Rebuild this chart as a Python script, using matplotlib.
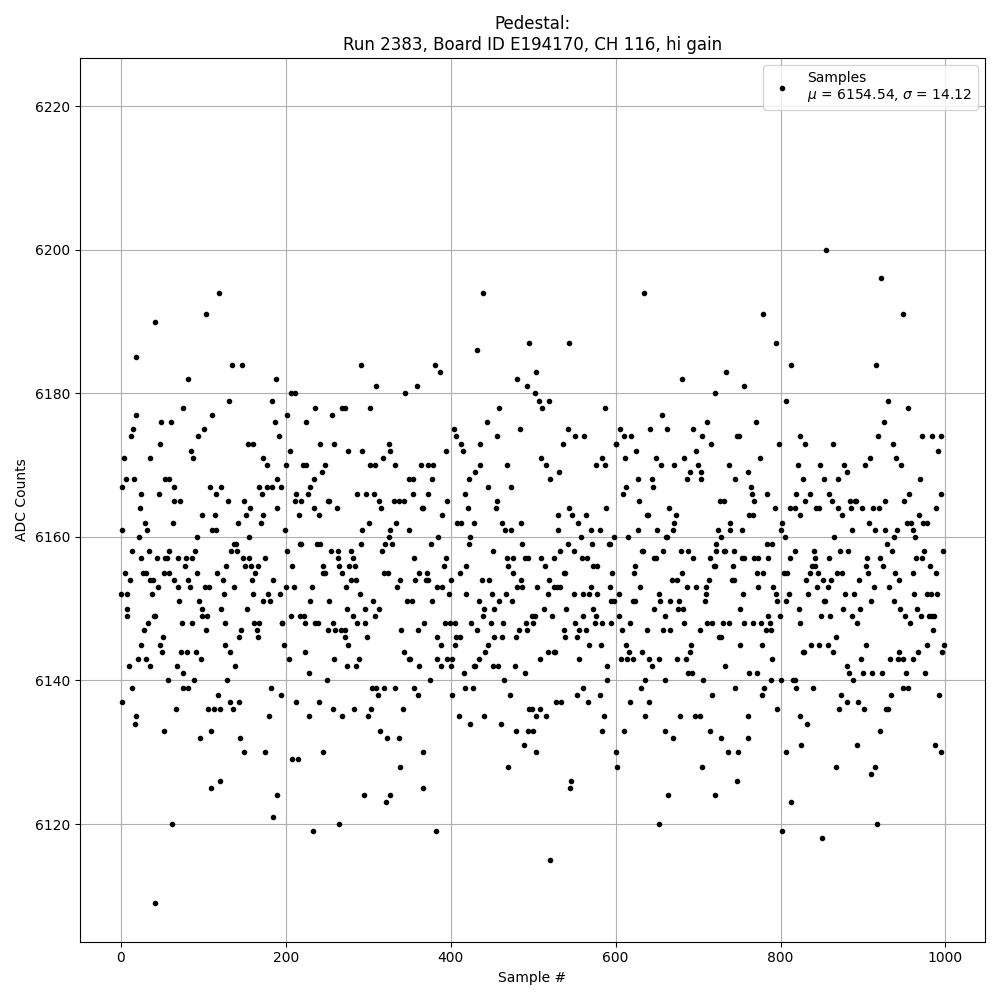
import numpy as np
import matplotlib
matplotlib.use("Agg")
import matplotlib.pyplot as plt

# (sample #, ADC counts), grouped by sample range
seg_a = [
    (119, 6194), (41, 6190), (103, 6191), (18, 6185), (135, 6184), (147, 6184), (82, 6182),
    (131, 6179), (75, 6178), (19, 6177), (110, 6177), (49, 6176), (61, 6176), (15, 6175),
    (12, 6174), (101, 6175), (93, 6174), (47, 6173), (154, 6173), (85, 6172), (4, 6171),
    (36, 6171), (87, 6171), (6, 6168), (16, 6168), (54, 6168), (59, 6168), (2, 6167),
    (64, 6167), (108, 6167), (121, 6167), (24, 6166), (46, 6166), (116, 6166), (65, 6165),
    (72, 6165), (130, 6165), (149, 6165), (23, 6164), (157, 6164), (98, 6163), (114, 6163),
    (152, 6163), (29, 6162), (63, 6162), (142, 6162), (1, 6161), (32, 6161), (111, 6161),
    (115, 6161), (22, 6160), (92, 6160), (155, 6160), (137, 6159), (140, 6159), (13, 6158),
    (34, 6158), (58, 6158), (90, 6158), (134, 6158), (141, 6158), (25, 6157), (44, 6157),
    (53, 6157), (56, 6157), (69, 6157), (79, 6157), (86, 6157), (148, 6157), (156, 6157),
    (78, 6156), (127, 6156), (151, 6156), (158, 6156),
    (5, 6155), (27, 6155), (30, 6155), (52, 6155), (58, 6155), (92, 6155), (117, 6155),
    (11, 6154), (35, 6154), (39, 6154), (65, 6154), (81, 6154), (124, 6154), (159, 6154),
    (45, 6153), (69, 6153), (84, 6153), (102, 6153), (107, 6153), (137, 6153),
    (0, 6152), (7, 6152), (38, 6152), (125, 6152), (160, 6152), (70, 6151), (95, 6151),
    (7, 6150), (99, 6150), (122, 6150), (153, 6150), (8, 6149), (40, 6149), (42, 6149),
    (98, 6149), (104, 6149), (33, 6148), (74, 6148), (86, 6148), (126, 6148), (161, 6148),
    (28, 6147), (103, 6147), (146, 6147), (51, 6146), (143, 6146), (24, 6145), (47, 6145),
    (126, 6145), (50, 6144), (73, 6144), (80, 6144), (91, 6144), (132, 6144), (21, 6143),
    (30, 6143), (97, 6143), (10, 6142), (35, 6142), (68, 6142), (138, 6142), (75, 6141),
    (57, 6140), (89, 6140), (129, 6140), (13, 6139), (76, 6139), (82, 6139), (118, 6138),
    (1, 6137), (132, 6137), (143, 6137), (67, 6136), (106, 6136), (113, 6136), (120, 6136),
    (136, 6136), (19, 6135), (17, 6134), (52, 6133), (109, 6133), (96, 6132), (144, 6132),
    (149, 6130), (120, 6126), (109, 6125), (62, 6120), (41, 6109),
]

seg_b = [
    (291, 6184), (188, 6182), (310, 6181), (206, 6180), (211, 6180), (183, 6179), (236, 6178),
    (268, 6178), (272, 6178), (302, 6178), (201, 6177), (256, 6177), (187, 6176), (225, 6176),
    (192, 6174), (160, 6173), (241, 6173), (259, 6173), (325, 6173), (205, 6172), (275, 6172),
    (293, 6172), (326, 6172), (172, 6171), (318, 6171), (177, 6170), (200, 6170), (221, 6170),
    (224, 6170), (247, 6170), (302, 6170), (308, 6170), (244, 6169), (189, 6168), (234, 6168),
    (168, 6167), (177, 6167), (183, 6167), (194, 6167), (230, 6167), (171, 6166), (212, 6166),
    (227, 6166), (286, 6166), (297, 6166), (307, 6166), (211, 6165), (218, 6165), (251, 6165),
    (252, 6165), (313, 6165), (190, 6164), (234, 6164), (262, 6164), (315, 6164), (173, 6163),
    (216, 6163), (240, 6163), (170, 6162), (301, 6162), (199, 6161), (292, 6161), (326, 6161),
    (325, 6160), (217, 6159), (219, 6159), (238, 6159), (242, 6159), (291, 6159), (320, 6159),
    (329, 6159), (202, 6158), (255, 6158), (263, 6158), (279, 6158), (317, 6158), (175, 6157),
    (263, 6157), (282, 6157), (208, 6156), (245, 6156), (264, 6156), (277, 6156), (284, 6156),
    (166, 6156),
    (163, 6155), (245, 6155), (248, 6155), (268, 6155), (319, 6155), (324, 6155), (185, 6154),
    (279, 6154), (285, 6154), (200, 6153), (210, 6153), (232, 6153), (273, 6153), (178, 6152),
    (193, 6152), (290, 6152), (172, 6151), (181, 6151), (229, 6151), (253, 6151), (306, 6151),
    (274, 6150), (296, 6150), (313, 6150), (206, 6149), (217, 6149), (222, 6149), (281, 6149),
    (308, 6149), (167, 6148), (195, 6148), (196, 6148), (223, 6148), (235, 6148), (239, 6148),
    (257, 6148), (287, 6148), (296, 6148), (165, 6147), (251, 6147), (260, 6147), (267, 6147),
    (272, 6147), (166, 6146), (272, 6146), (298, 6146), (198, 6145), (276, 6145), (223, 6144),
    (204, 6143), (258, 6143), (289, 6143), (274, 6142), (285, 6142), (228, 6141), (250, 6140),
    (182, 6139), (304, 6139), (309, 6139), (319, 6139), (194, 6138), (312, 6138), (213, 6137),
    (240, 6137), (257, 6136), (283, 6136), (303, 6136), (180, 6135), (228, 6135), (268, 6135),
    (300, 6135), (314, 6133), (323, 6132), (175, 6130), (245, 6130), (207, 6129), (215, 6129),
    (189, 6124), (295, 6124), (327, 6124), (322, 6123), (184, 6121), (265, 6120), (233, 6119),
]

seg_c = [
    (439, 6194), (432, 6186), (381, 6184), (387, 6183), (480, 6182), (359, 6181), (492, 6181),
    (345, 6180), (495, 6187), (458, 6178), (444, 6176), (404, 6175), (484, 6175), (407, 6174),
    (456, 6174), (413, 6173), (436, 6173), (394, 6172), (415, 6172), (333, 6170), (364, 6170),
    (373, 6170), (379, 6170), (435, 6170), (468, 6170), (429, 6169), (349, 6168), (354, 6168),
    (377, 6168), (422, 6168), (445, 6167), (473, 6167), (354, 6166), (372, 6166), (417, 6166),
    (331, 6165), (337, 6165), (344, 6165), (396, 6165), (456, 6165), (365, 6164), (366, 6164),
    (421, 6164), (455, 6164), (389, 6163), (334, 6162), (408, 6162), (412, 6162), (428, 6162),
    (462, 6162), (485, 6162), (349, 6161), (466, 6161), (473, 6161), (385, 6160), (423, 6160),
    (376, 6159), (422, 6159), (486, 6159), (451, 6158), (356, 6157), (394, 6157), (468, 6157),
    (475, 6157), (490, 6157), (494, 6157), (392, 6156), (418, 6156), (470, 6156),
    (361, 6155), (371, 6155), (411, 6155), (476, 6155), (339, 6154), (357, 6154), (370, 6154),
    (372, 6154), (400, 6154), (438, 6154), (446, 6154), (485, 6154), (335, 6153), (384, 6153),
    (390, 6153), (481, 6153), (487, 6153), (398, 6152), (419, 6152), (450, 6152), (467, 6152),
    (347, 6151), (353, 6151), (377, 6151), (434, 6151), (459, 6151), (474, 6151), (440, 6150),
    (453, 6150), (439, 6149), (368, 6148), (393, 6148), (399, 6148), (405, 6148), (425, 6148),
    (449, 6148), (463, 6148), (491, 6148), (340, 6147), (360, 6147), (432, 6147), (483, 6147),
    (493, 6147), (383, 6146), (406, 6146), (411, 6146), (452, 6146), (462, 6146), (479, 6146),
    (388, 6145), (405, 6145), (445, 6145), (343, 6144), (442, 6144), (349, 6143), (351, 6143),
    (383, 6143), (395, 6143), (402, 6143), (434, 6143), (362, 6142), (388, 6142), (400, 6142),
    (428, 6142), (430, 6142), (451, 6142), (457, 6142), (478, 6142), (416, 6141), (490, 6141),
    (375, 6140), (465, 6140), (332, 6139), (355, 6139), (417, 6139), (427, 6139), (360, 6138),
    (401, 6138), (472, 6138), (342, 6136), (495, 6136), (410, 6135), (441, 6135), (424, 6134),
    (461, 6134), (479, 6133), (494, 6133), (337, 6132), (489, 6131), (367, 6130), (338, 6128),
    (469, 6128), (366, 6125), (382, 6119),
]

seg_d = [
    (634, 6194), (544, 6187), (504, 6183), (502, 6180), (507, 6179), (519, 6179), (511, 6178),
    (587, 6178), (656, 6177), (542, 6175), (605, 6175), (642, 6175), (662, 6175), (551, 6174),
    (562, 6174), (610, 6174), (619, 6174), (536, 6173), (600, 6173), (601, 6173), (625, 6172),
    (510, 6171), (583, 6171), (611, 6171), (649, 6171), (515, 6170), (576, 6170), (587, 6170),
    (655, 6170), (531, 6169), (521, 6168), (627, 6168), (644, 6168), (613, 6167), (645, 6167),
    (609, 6166), (628, 6165), (543, 6164), (588, 6164), (530, 6163), (547, 6163), (564, 6163),
    (638, 6163), (639, 6163), (554, 6162), (530, 6161), (570, 6161), (581, 6161), (627, 6161),
    (650, 6161), (558, 6160), (598, 6160), (615, 6160), (661, 6160), (542, 6159), (571, 6159),
    (592, 6159), (593, 6159), (533, 6158), (549, 6158), (632, 6158), (633, 6158), (658, 6158),
    (509, 6157), (525, 6157), (559, 6157), (565, 6157), (646, 6157), (649, 6157), (514, 6156),
    (572, 6156), (578, 6156), (624, 6156),
    (537, 6155), (539, 6155), (596, 6155), (622, 6155), (519, 6154), (505, 6153), (525, 6153),
    (529, 6153), (532, 6153), (570, 6153), (593, 6153), (630, 6153), (518, 6152), (549, 6152),
    (561, 6152), (568, 6152), (578, 6152), (604, 6152), (653, 6152), (595, 6151), (598, 6151),
    (621, 6151), (623, 6151), (654, 6151), (513, 6150), (540, 6150), (573, 6150), (647, 6150),
    (499, 6149), (502, 6149), (523, 6149), (561, 6149), (576, 6149), (604, 6149), (660, 6149),
    (500, 6148), (551, 6148), (575, 6148), (584, 6148), (595, 6148), (617, 6148), (537, 6147),
    (555, 6147), (564, 6147), (608, 6147), (638, 6147), (657, 6147), (539, 6146), (553, 6146),
    (568, 6145), (582, 6145), (612, 6145), (518, 6144), (525, 6144), (527, 6144), (616, 6144),
    (632, 6144), (508, 6143), (556, 6143), (606, 6143), (614, 6143), (621, 6143), (640, 6143),
    (652, 6143), (590, 6142), (644, 6142), (589, 6140), (636, 6140), (660, 6140), (560, 6139),
    (631, 6139), (553, 6138), (581, 6138), (528, 6137), (534, 6137), (566, 6137), (618, 6137),
    (641, 6137), (499, 6136), (508, 6136), (504, 6135), (516, 6135), (586, 6135), (636, 6135),
    (500, 6133), (583, 6133), (610, 6133), (660, 6133), (503, 6130), (600, 6130), (602, 6128),
    (546, 6126), (545, 6125), (652, 6120), (520, 6115),
]

seg_e = [
    (779, 6191), (794, 6187), (813, 6184), (680, 6182), (734, 6183), (756, 6181), (720, 6180),
    (807, 6179), (711, 6176), (770, 6176), (694, 6175), (705, 6174), (747, 6174), (750, 6174),
    (824, 6174), (716, 6173), (798, 6173), (697, 6172), (683, 6171), (775, 6171), (671, 6170),
    (700, 6170), (738, 6170), (821, 6170), (690, 6169), (704, 6169), (760, 6169), (686, 6168),
    (703, 6168), (745, 6168), (827, 6168), (764, 6167), (765, 6166), (784, 6166), (819, 6166),
    (727, 6165), (732, 6165), (768, 6165), (665, 6164), (793, 6164), (812, 6164), (818, 6164),
    (673, 6163), (762, 6163), (767, 6163), (823, 6163), (671, 6162), (739, 6162), (802, 6162),
    (669, 6161), (724, 6161), (739, 6161), (753, 6161), (800, 6161), (662, 6160), (728, 6160),
    (805, 6160), (722, 6159), (783, 6159), (790, 6159), (679, 6158), (688, 6158), (722, 6158),
    (731, 6158), (733, 6158), (743, 6158), (817, 6158), (694, 6157), (714, 6157), (753, 6157),
    (756, 6157), (768, 6157), (773, 6157), (785, 6157), (811, 6157), (719, 6156), (721, 6156),
    (742, 6156),
    (668, 6154), (675, 6154), (681, 6155), (713, 6154), (741, 6154), (743, 6154), (772, 6155),
    (779, 6155), (804, 6155), (808, 6155), (687, 6153), (698, 6153), (710, 6153), (773, 6153),
    (791, 6153), (709, 6152), (755, 6152), (795, 6152), (810, 6152), (666, 6151), (677, 6151),
    (708, 6151), (796, 6151), (807, 6151), (676, 6150), (682, 6150), (751, 6150), (822, 6150),
    (785, 6149), (799, 6149), (683, 6148), (711, 6148), (717, 6148), (730, 6148), (737, 6148),
    (756, 6148), (766, 6148), (776, 6148), (787, 6148), (824, 6148), (666, 6147), (702, 6147),
    (782, 6147), (789, 6147), (725, 6146), (728, 6146), (692, 6145), (751, 6145), (777, 6145),
    (690, 6144), (827, 6144), (674, 6143), (685, 6143), (790, 6143), (733, 6142), (688, 6141),
    (693, 6141), (762, 6141), (771, 6141), (706, 6140), (788, 6140), (801, 6140), (815, 6140),
    (817, 6140), (745, 6139), (780, 6139), (819, 6139), (717, 6138), (778, 6138), (796, 6136),
    (678, 6135), (696, 6135), (702, 6135), (760, 6135), (824, 6135), (715, 6133), (670, 6132),
    (728, 6132), (761, 6132), (736, 6130), (749, 6130), (806, 6130), (825, 6131), (705, 6128),
    (747, 6126), (664, 6124), (720, 6124), (813, 6123), (802, 6119),
]

seg_f = [
    (855, 6200), (922, 6196), (949, 6191), (916, 6184), (930, 6179), (955, 6178), (926, 6176),
    (918, 6174), (972, 6174), (984, 6174), (994, 6174), (830, 6173), (864, 6173), (936, 6173),
    (991, 6172), (909, 6171), (940, 6171), (848, 6170), (877, 6170), (902, 6170), (946, 6170),
    (881, 6169), (853, 6168), (870, 6168), (969, 6168), (836, 6166), (859, 6166), (956, 6166),
    (995, 6166), (830, 6165), (862, 6165), (884, 6165), (890, 6165), (891, 6165), (927, 6165),
    (950, 6165), (843, 6164), (847, 6164), (870, 6164), (885, 6164), (899, 6164), (912, 6164),
    (919, 6164), (989, 6164), (875, 6163), (968, 6163), (907, 6162), (953, 6162), (958, 6162),
    (973, 6162), (978, 6162), (887, 6161), (915, 6161), (927, 6161), (941, 6161), (961, 6161),
    (865, 6160), (938, 6160), (963, 6160), (929, 6159), (841, 6158), (872, 6158), (882, 6158),
    (935, 6158), (974, 6158), (997, 6158), (842, 6157), (859, 6157), (905, 6157), (921, 6157),
    (964, 6157), (972, 6157), (838, 6156), (842, 6156), (904, 6156), (924, 6156), (981, 6156),
    (836, 6155), (845, 6155), (868, 6155), (875, 6155), (906, 6155), (939, 6155), (961, 6155),
    (989, 6155), (831, 6154), (852, 6154), (861, 6154), (895, 6154), (944, 6154), (844, 6153),
    (858, 6153), (913, 6153), (932, 6153), (833, 6152), (878, 6152), (889, 6152), (962, 6152),
    (978, 6152), (983, 6152), (990, 6152), (853, 6151), (854, 6151), (910, 6151), (938, 6151),
    (876, 6150), (896, 6150), (945, 6150), (966, 6150), (849, 6149), (860, 6149), (887, 6149),
    (951, 6149), (970, 6149), (980, 6149), (984, 6149), (986, 6149), (893, 6148), (957, 6148),
    (985, 6147), (867, 6146), (837, 6145), (847, 6145), (857, 6145), (904, 6145), (977, 6145),
    (998, 6145), (828, 6144), (864, 6144), (944, 6144), (967, 6144), (996, 6144), (898, 6143),
    (933, 6143), (943, 6143), (948, 6143), (960, 6143), (880, 6142), (883, 6141), (900, 6141),
    (911, 6141), (923, 6141), (952, 6141), (975, 6141), (888, 6140), (839, 6139), (949, 6139),
    (954, 6139), (873, 6138), (934, 6138), (992, 6138), (880, 6137), (894, 6137), (871, 6136),
    (901, 6136), (928, 6136), (930, 6136), (832, 6134), (921, 6133), (893, 6131), (987, 6131),
    (995, 6130), (867, 6128), (910, 6127), (915, 6128), (917, 6120), (850, 6118),
]

title = "Pedestal:\nRun 2383, Board ID E194170, CH 116, hi gain"
label = "Samples\n$\\mu$ = 6154.54, $\\sigma$ = 14.12"

pts = np.array(seg_a + seg_b + seg_c + seg_d + seg_e + seg_f)
order = np.argsort(pts[:, 0], kind="stable")
sample_no = pts[order, 0]
adc = pts[order, 1]

fig, ax = plt.subplots(figsize=(10, 10), dpi=100)
ax.plot(sample_no, adc, "k.", label=label)
ax.set_title(title)
ax.set_xlabel("Sample #")
ax.set_ylabel("ADC Counts")
ax.set_ylim(6103.6, 6226.7)
ax.grid(True)
ax.legend(loc="upper right")

plt.tight_layout()
plt.savefig("out.png")
